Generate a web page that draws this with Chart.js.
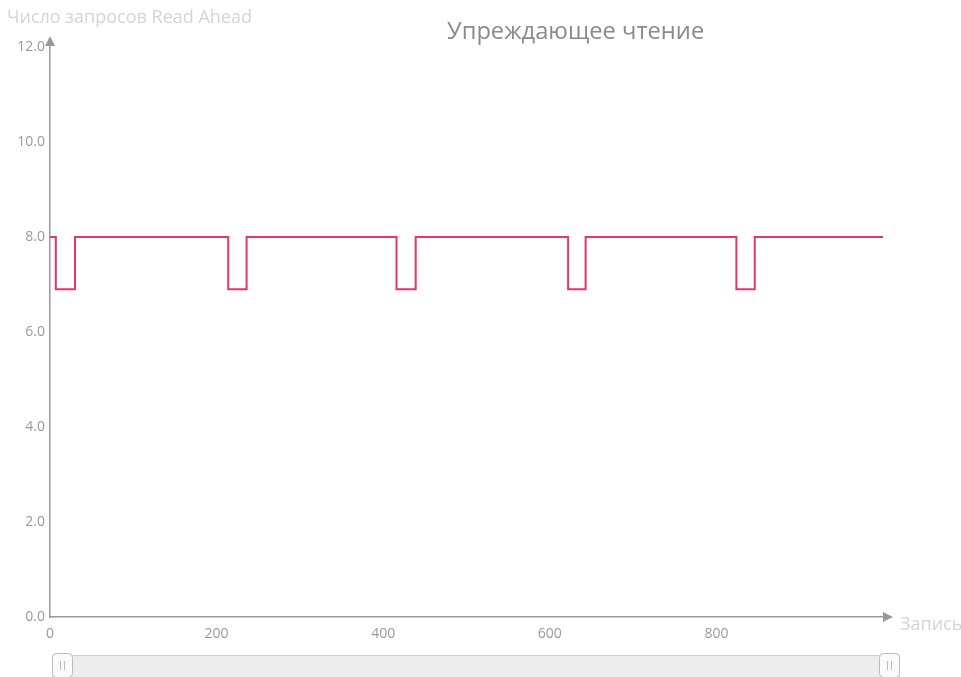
<!DOCTYPE html>
<html><head><meta charset="utf-8">
<script src="https://cdn.jsdelivr.net/npm/chart.js@4"></script>
<style>html,body{margin:0;padding:0;background:#fff;}#wrap{width:961px;height:677px;}</style>
</head><body><div id="wrap"><canvas id="c" width="961" height="677"></canvas></div>
<script>
const chartTitle = 'Упреждающее чтение';
const yAxisTitle = 'Число запросов Read Ahead';
const xAxisTitle = 'Запись';
// record index where the value changes, and the new value
const recordX = [0, 7, 30, 214, 236, 416, 439, 622, 643, 824, 846, 1000];
const readAhead = [8, 6.9, 8, 6.9, 8, 6.9, 8, 6.9, 8, 6.9, 8, 8];
const xTickValues = [0, 200, 400, 600, 800];
const yTickValues = [0, 2, 4, 6, 8, 10, 12];

const points = recordX.map((x, i) => ({x, y: readAhead[i]}));
const FONT = "'Open Sans', sans-serif";

const decor = {
  id: 'decor',
  afterDraw(chart) {
    const ctx = chart.ctx, a = chart.chartArea;
    ctx.save();
    // arrows
    ctx.fillStyle = '#999';
    ctx.beginPath();
    ctx.moveTo(a.left, a.top - 11); ctx.lineTo(a.left - 5, a.top - 1); ctx.lineTo(a.left + 5, a.top - 1); ctx.closePath(); ctx.fill();
    ctx.beginPath();
    ctx.moveTo(a.right + 10, a.bottom); ctx.lineTo(a.right, a.bottom - 5); ctx.lineTo(a.right, a.bottom + 5); ctx.closePath(); ctx.fill();
    // title
    ctx.fillStyle = '#8a8a8a';
    ctx.font = "23.7px " + FONT;
    ctx.textAlign = 'center'; ctx.textBaseline = 'middle';
    ctx.fillText(chartTitle, a.left + (a.right - a.left) * 0.631, 32);
    // axis titles
    ctx.fillStyle = '#d4d4d4';
    ctx.font = "18px " + FONT;
    ctx.textAlign = 'left';
    ctx.fillText(yAxisTitle, 7, 18);
    ctx.fillText(xAxisTitle, a.right + 17, a.bottom + 8);
    // slider
    const sx = a.left + 2, sw = a.right + 16 - sx, sy = 655, sh = 24;
    ctx.fillStyle = '#ededed'; ctx.strokeStyle = '#d0d0d0'; ctx.lineWidth = 1;
    ctx.beginPath(); ctx.roundRect(sx + 0.5, sy + 0.5, sw, sh, 4); ctx.fill(); ctx.stroke();
    const handles = [sx, sx + sw - 20];
    handles.forEach(hx => {
      ctx.fillStyle = '#fafafa'; ctx.strokeStyle = '#bbb';
      ctx.beginPath(); ctx.roundRect(hx + 0.5, sy - 1.5, 20, sh, 4); ctx.fill(); ctx.stroke();
      ctx.strokeStyle = '#bbb';
      ctx.beginPath();
      ctx.moveTo(hx + 8.5, sy + 6); ctx.lineTo(hx + 8.5, sy + 15);
      ctx.moveTo(hx + 12.5, sy + 6); ctx.lineTo(hx + 12.5, sy + 15);
      ctx.stroke();
    });
    ctx.restore();
  }
};

new Chart(document.getElementById('c'), {
  type: 'line',
  data: { datasets: [{
    data: points,
    stepped: true,
    borderColor: '#e8336b',
    borderWidth: 2,
    pointRadius: 0,
    fill: false
  }]},
  options: {
    responsive: false,
    animation: false,
    layout: { padding: { top: 47, right: 78, left: 0, bottom: 0 } },
    plugins: { legend: { display: false }, tooltip: { enabled: false }, title: { display: false } },
    scales: {
      x: {
        type: 'linear', min: 0, max: recordX[recordX.length - 1],
        grid: { display: false, drawTicks: false },
        border: { display: true, color: '#999', width: 1.5 },
        afterBuildTicks: s => { s.ticks = xTickValues.map(v => ({value: v})); },
        afterFit: s => { s.height = 60; },
        ticks: { color: '#999', font: { family: FONT, size: 14 }, padding: 9, maxRotation: 0, callback: v => String(v) }
      },
      y: {
        min: 0, max: 12,
        grid: { display: false, drawTicks: false },
        border: { display: true, color: '#999', width: 1.5 },
        afterBuildTicks: s => { s.ticks = yTickValues.map(v => ({value: v})); },
        afterFit: s => { s.width = 50; },
        ticks: { color: '#999', font: { family: FONT, size: 14 }, padding: 5, callback: v => Number(v).toFixed(1) }
      }
    }
  },
  plugins: [decor]
});
</script></body></html>
